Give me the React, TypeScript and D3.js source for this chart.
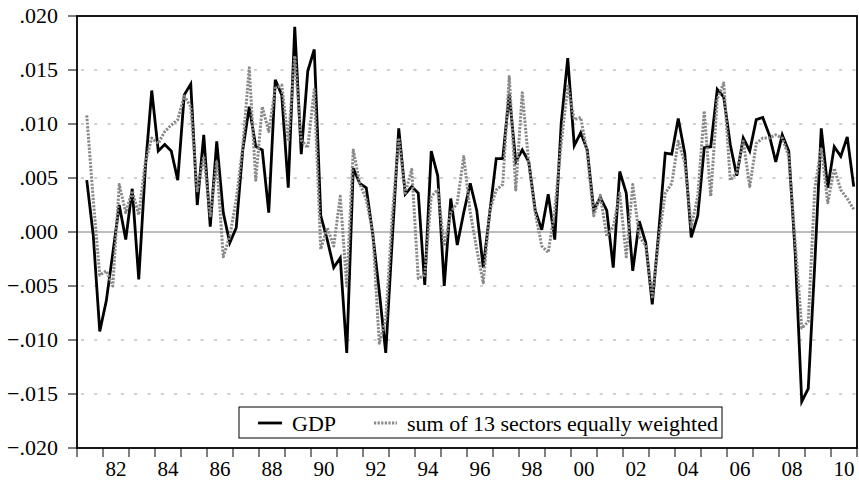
import React from "react";
import * as d3 from "d3";

// Quarterly data, 1981Q2 .. 2010Q4
const startYear = 1981;
const startQuarter = 2;

const gdp: number[] = [
  0.0048, -0.0003, -0.0092, -0.0064, -0.0020, 0.0025, -0.0007, 0.0040, -0.0044, 0.0058,
  0.0131, 0.0075, 0.0081, 0.0075, 0.0048, 0.0127, 0.0137, 0.0025, 0.0090, 0.0005,
  0.0084, 0.0018, -0.0010, 0.0004, 0.0076, 0.0116, 0.0079, 0.0076, 0.0018, 0.0141,
  0.0127, 0.0041, 0.0190, 0.0072, 0.0149, 0.0169, 0.0015, -0.0007, -0.0033, -0.0024,
  -0.0112, 0.0059, 0.0045, 0.0041, -0.0002, -0.0055, -0.0112, -0.0007, 0.0096, 0.0035,
  0.0042, 0.0036, -0.0049, 0.0075, 0.0052, -0.0050, 0.0031, -0.0012, 0.0018, 0.0045,
  0.0020, -0.0033, 0.0018, 0.0068, 0.0068, 0.0128, 0.0065, 0.0076, 0.0065, 0.0020,
  0.0002, 0.0035, -0.0007, 0.0101, 0.0161, 0.0080, 0.0092, 0.0076, 0.0020, 0.0032,
  0.0020, -0.0033, 0.0056, 0.0036, -0.0036, 0.0010, -0.0010, -0.0067, 0.0000, 0.0073,
  0.0072, 0.0105, 0.0073, -0.0005, 0.0015, 0.0078, 0.0079, 0.0132, 0.0125, 0.0081,
  0.0052, 0.0087, 0.0075, 0.0104, 0.0106, 0.0090, 0.0065, 0.0090, 0.0075, -0.0020,
  -0.0157, -0.0145, -0.0030, 0.0096, 0.0041, 0.0079, 0.0070, 0.0088, 0.0042,
];

const sectors: number[] = [
  0.0108, 0.0030, -0.0040, -0.0036, -0.0050, 0.0044, 0.0018, 0.0038, 0.0016, 0.0064,
  0.0087, 0.0082, 0.0093, 0.0099, 0.0104, 0.0126, 0.0116, 0.0038, 0.0070, 0.0015,
  0.0065, -0.0023, -0.0004, 0.0030, 0.0079, 0.0152, 0.0048, 0.0116, 0.0093, 0.0133,
  0.0136, 0.0084, 0.0163, 0.0085, 0.0078, 0.0132, -0.0016, 0.0004, -0.0013, 0.0033,
  -0.0050, 0.0076, 0.0045, 0.0030, 0.0000, -0.0103, -0.0081, 0.0015, 0.0087, 0.0036,
  0.0058, -0.0043, -0.0040, 0.0033, 0.0039, -0.0013, 0.0018, 0.0027, 0.0070, 0.0018,
  -0.0016, -0.0047, 0.0020, 0.0039, 0.0044, 0.0144, 0.0039, 0.0129, 0.0064, 0.0018,
  -0.0013, -0.0019, 0.0020, 0.0082, 0.0135, 0.0104, 0.0106, 0.0073, 0.0015, 0.0034,
  -0.0004, 0.0005, 0.0036, -0.0023, 0.0044, -0.0004, -0.0013, -0.0060, -0.0007, 0.0036,
  0.0045, 0.0084, 0.0064, 0.0005, 0.0033, 0.0112, 0.0033, 0.0123, 0.0138, 0.0048,
  0.0055, 0.0084, 0.0042, 0.0082, 0.0087, 0.0087, 0.0090, 0.0087, 0.0070, -0.0010,
  -0.0089, -0.0083, 0.0040, 0.0078, 0.0027, 0.0059, 0.0039, 0.0031, 0.0021,
];

const yTicks: number[] = [0.02, 0.015, 0.01, 0.005, 0, -0.005, -0.01, -0.015, -0.02];
const yearLabels: number[] = [1982, 1984, 1986, 1988, 1990, 1992, 1994, 1996, 1998, 2000, 2002, 2004, 2006, 2008, 2010];
const legendLabels: string[] = ["GDP", "sum of 13 sectors equally weighted"];

const W = 859;
const H = 482;
const L = 77;
const R = 857;
const T = 16;
const B = 448;
const FONT = "'Liberation Serif', 'Times New Roman', serif";

const x = d3.scaleLinear().domain([1981, 2011]).range([L, R]);
const y = d3.scaleLinear().domain([-0.02, 0.02]).range([B, T]);

const timeOf = (i: number) => startYear + (startQuarter - 1 + i + 0.5) / 4;

const line = d3
  .line<number>()
  .x((_, i) => x(timeOf(i)))
  .y((d) => y(d));

const fmt = (v: number) => {
  const s = Math.abs(v).toFixed(3).slice(1);
  return v < 0 ? "\u2212" + s : s;
};

const DOT = "#888888";

export default function App() {
  const years = d3.range(1981, 2012);
  return (
    <svg
      width={W}
      height={H}
      style={{ position: "fixed", left: 0, top: 0, background: "#fff" }}
      fontFamily={FONT}
    >
      <rect x={0} y={0} width={W} height={H} fill="#fff" />
      {/* grid */}
      {yTicks
        .filter((v) => v !== 0 && Math.abs(v) < 0.02)
        .map((v) => (
          <line
            key={"g" + v}
            x1={L + 4}
            x2={R}
            y1={y(v)}
            y2={y(v)}
            stroke="#a0a0a0"
            strokeWidth={1}
            strokeDasharray="3 10.3"
          />
        ))}
      <line x1={L} x2={R} y1={y(0)} y2={y(0)} stroke="#7a7a7a" strokeWidth={1} />

      {/* series */}
      <path d={line(gdp) || ""} fill="none" stroke="#000" strokeWidth={2.8} strokeLinejoin="miter" strokeMiterlimit={4} />
      <path
        d={line(sectors) || ""}
        fill="none"
        stroke={DOT}
        strokeWidth={3}
        strokeDasharray="2.2 1.4"
        strokeLinejoin="round"
      />

      {/* frame */}
      <rect x={L} y={T} width={R - L} height={B - T} fill="none" stroke="#000" strokeWidth={1.8} />

      {/* y axis */}
      {yTicks.map((v) => (
        <g key={"y" + v}>
          <line x1={L - 9} x2={L} y1={y(v)} y2={y(v)} stroke="#000" strokeWidth={1} />
          <text x={58} y={y(v) + 7} textAnchor="end" fontSize={22} fill="#000">
            {fmt(v)}
          </text>
        </g>
      ))}

      {/* x axis */}
      {years.map((yr) => (
        <line key={"xt" + yr} x1={x(yr)} x2={x(yr)} y1={B} y2={B + 9} stroke="#000" strokeWidth={1} />
      ))}
      {yearLabels.map((yr) => (
        <text key={"xl" + yr} x={x(yr + 0.5)} y={476} textAnchor="middle" fontSize={21} fill="#000">
          {String(yr % 100).padStart(2, "0")}
        </text>
      ))}

      {/* legend */}
      <rect x={239} y={407} width={483} height={31} fill="#fff" stroke="#000" strokeWidth={1} />
      <line x1={258} x2={282} y1={423} y2={423} stroke="#000" strokeWidth={2.8} />
      <text x={292} y={431} fontSize={22} fill="#000">
        {legendLabels[0]}
      </text>
      <line x1={374} x2={397} y1={423} y2={423} stroke={DOT} strokeWidth={3} strokeDasharray="2.2 1.4" />
      <text x={407} y={431} fontSize={22} fill="#000">
        {legendLabels[1]}
      </text>
    </svg>
  );
}
